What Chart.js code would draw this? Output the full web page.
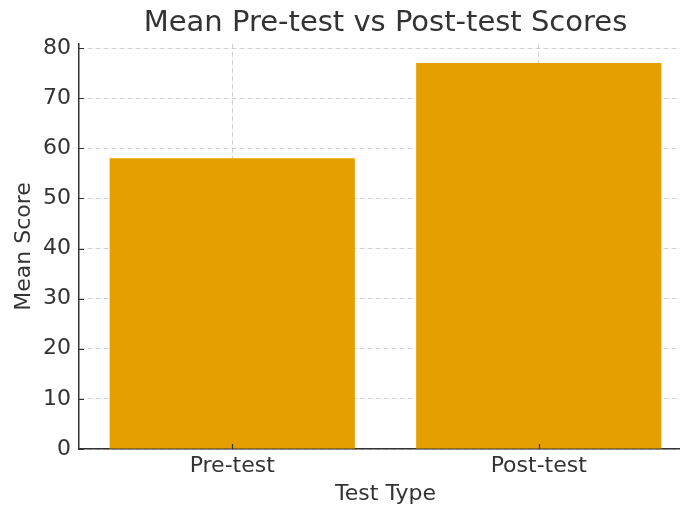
<!DOCTYPE html>
<html>
<head>
<meta charset="utf-8">
<script src="https://cdn.jsdelivr.net/npm/chart.js@4"></script>
<style>
  html, body { margin: 0; padding: 0; background: #fff; overflow: hidden; }
  #wrap { width: 700px; height: 506px; }
</style>
</head>
<body>
<div id="wrap"><canvas id="myChart" width="700" height="506"></canvas></div>
<script>
var testTypes = ["Pre-test", "Post-test"];
var meanScores = [58, 77];
var yTicks = [0, 10, 20, 30, 40, 50, 60, 70, 80];

var barColor = "#E69F00";
var textColor = "#333333";
var fontName = "'DejaVu Sans', sans-serif";

// matplotlib style ticks point into the plot
var innerTicks = {
  id: "innerTicks",
  afterDraw: function (chart) {
    var ctx = chart.ctx;
    var xs = chart.scales.x;
    var ys = chart.scales.y;
    ctx.save();
    ctx.strokeStyle = textColor;
    ctx.lineWidth = 1.2;
    ctx.beginPath();
    for (var i = 0; i < ys.ticks.length; ++i) {
      var py = Math.round(ys.getPixelForValue(ys.ticks[i].value)) + 0.5;
      ctx.moveTo(ys.right, py);
      ctx.lineTo(ys.right + 5, py);
    }
    for (var j = 0; j < xs.ticks.length; ++j) {
      var px = Math.round(xs.getPixelForTick(j)) + 0.5;
      ctx.moveTo(px, xs.top);
      ctx.lineTo(px, xs.top - 5);
    }
    ctx.stroke();
    ctx.restore();
  },
};

const ctx = document.getElementById("myChart");

new Chart(ctx, {
  type: "bar",
  data: {
    labels: testTypes,
    datasets: [
      {
        label: "Mean Score",
        data: meanScores,
        backgroundColor: barColor,
        borderWidth: 0,
        barPercentage: 0.8,
        categoryPercentage: 1.0,
      },
    ],
  },
  options: {
    responsive: false,
    animation: false,
    layout: { padding: { left: 0, right: 8, top: 0, bottom: 0 } },
    plugins: {
      legend: { display: false },
      tooltip: { enabled: false },
      title: {
        display: true,
        fullSize: false,
        text: "Mean Pre-test vs Post-test Scores",
        color: textColor,
        font: { family: fontName, size: 29, weight: "normal" },
        padding: { top: 6, bottom: 3 },
      },
    },
    scales: {
      x: {
        z: 1,
        offset: true,
        grid: {
          offset: false,
          drawTicks: false,
          color: "rgba(176,176,176,0.6)",
          lineWidth: 1,
        },
        border: { display: true, color: textColor, width: 1.5, dash: [5, 3] },
        ticks: {
          color: textColor,
          padding: 4,
          font: { family: fontName, size: 22 },
        },
        title: {
          display: true,
          text: "Test Type",
          color: textColor,
          font: { family: fontName, size: 22, lineHeight: 1.1 },
          padding: { top: 0, bottom: 0 },
        },
        afterFit: function (scale) {
          scale.height = 57;
        },
      },
      y: {
        z: 1,
        min: 0,
        max: 80.85,
        grid: {
          drawTicks: false,
          color: "rgba(176,176,176,0.6)",
          lineWidth: 1,
        },
        border: { display: true, color: textColor, width: 1.5, dash: [5, 3] },
        afterBuildTicks: function (scale) {
          scale.ticks = yTicks.map(function (v) {
            return { value: v };
          });
        },
        ticks: {
          color: textColor,
          padding: 8,
          font: { family: fontName, size: 22 },
        },
        title: {
          display: true,
          text: "Mean Score",
          color: textColor,
          font: { family: fontName, size: 22 },
          padding: { top: 11, bottom: 0 },
        },
        afterFit: function (scale) {
          scale.width = 79;
        },
      },
    },
  },
  plugins: [innerTicks],
});
</script>
</body>
</html>
